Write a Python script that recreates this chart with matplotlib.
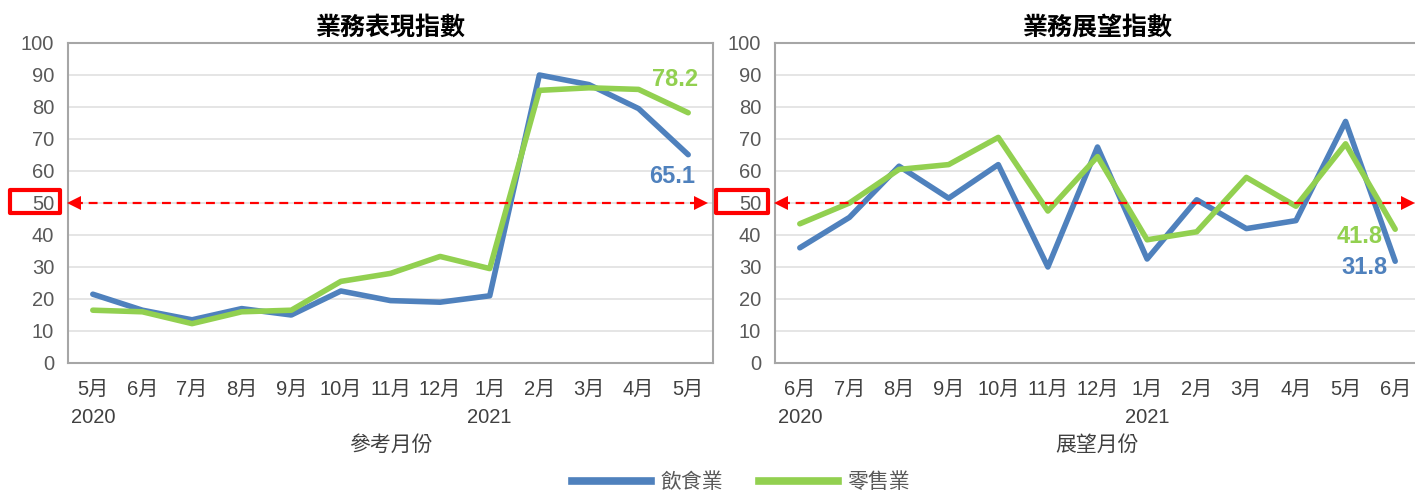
import matplotlib
matplotlib.use("Agg")
import matplotlib.pyplot as plt
from matplotlib import font_manager as fm
from matplotlib.patches import Rectangle
from matplotlib.lines import Line2D
import matplotlib.transforms as mtrans

names = sorted({f.name for f in fm.fontManager.ttflist})

# ---------------- data ----------------
months_left = ["5月", "6月", "7月", "8月", "9月", "10月", "11月", "12月", "1月", "2月", "3月", "4月", "5月"]
years_left = {0: "2020", 8: "2021"}
food_perf = [21.5, 16.5, 13.5, 17.0, 15.0, 22.5, 19.5, 19.0, 21.0, 90.0, 87.0, 79.5, 65.1]
retail_perf = [16.5, 16.0, 12.3, 16.0, 16.5, 25.5, 28.0, 33.3, 29.5, 85.2, 86.0, 85.5, 78.2]

months_right = ["6月", "7月", "8月", "9月", "10月", "11月", "12月", "1月", "2月", "3月", "4月", "5月", "6月"]
years_right = {0: "2020", 7: "2021"}
food_outlook = [36.0, 45.5, 61.5, 51.5, 62.0, 30.0, 67.5, 32.5, 51.0, 42.0, 44.5, 75.5, 31.8]
retail_outlook = [43.5, 50.0, 60.5, 62.0, 70.5, 47.5, 64.5, 38.5, 41.0, 58.0, 49.0, 68.5, 41.8]

titles = ["業務表現指數", "業務展望指數"]
xlabels = ["參考月份", "展望月份"]
series_names = ["飲食業", "零售業"]
threshold = 50
yticks = list(range(0, 101, 10))

# ---------------- style ----------------
BLUE = "#4F81BD"
GREEN = "#92D050"
RED = "#FF0000"
narrow = "Liberation Sans Narrow" if "Liberation Sans Narrow" in names else "Liberation Sans"
CJK = "Noto Sans CJK TC"
num_font = [narrow, CJK]
plt.rcParams['font.family'] = [narrow, CJK, 'DejaVu Sans']

W, H = 1415, 491
fig = plt.figure(figsize=(W / 100, H / 100), dpi=100)

def fx(px):
    return px / W

def fy(py):
    return 1 - py / H

ax_w = 645
axes_specs = [
    (68, months_left, years_left, food_perf, retail_perf, 0),
    (775, months_right, years_right, food_outlook, retail_outlook, 1),
]

for left_px, months, years, food, retail, k in axes_specs:
    ax = fig.add_axes([fx(left_px), fy(363), ax_w / W, (363 - 43) / H])
    x = list(range(len(months)))
    ax.set_xlim(-0.5, len(months) - 0.5)
    ax.set_ylim(0, 100)
    ax.set_yticks(yticks)
    ax.set_yticklabels([str(v) for v in yticks], fontsize=14.5, color="#595959", family=num_font)
    ax.set_xticks(x)
    ax.set_xticklabels(months, fontsize=14.5, color="#404040", family=num_font)
    ax.tick_params(axis='both', length=0)
    ax.tick_params(axis='y', pad=10)
    ax.tick_params(axis='x', pad=12)
    ax.grid(axis='y', color="#E3E3E3", lw=1.3)
    ax.set_axisbelow(True)
    for s in ax.spines.values():
        s.set_color("#A6A6A6")
        s.set_linewidth(1.5)

    ax.plot(x, food, color=BLUE, lw=4, solid_capstyle='round', solid_joinstyle='round', zorder=3)
    ax.plot(x, retail, color=GREEN, lw=4, solid_capstyle='round', solid_joinstyle='round', zorder=4)

    # threshold dashed arrow line
    tr = mtrans.blended_transform_factory(ax.transAxes, ax.transData)
    ax.plot([0.01, 0.982], [threshold, threshold], transform=tr, color=RED, lw=1.6,
            ls=(0, (4, 2.6)), zorder=5, clip_on=False)
    ax.plot([0.009], [threshold], transform=tr, marker='<', ms=10, color=RED, mew=0, zorder=6, clip_on=False)
    ax.plot([0.981], [threshold], transform=tr, marker='>', ms=10, color=RED, mew=0, zorder=6, clip_on=False)

    # year labels
    trx = mtrans.blended_transform_factory(ax.transData, ax.transAxes)
    for i, yr in years.items():
        ax.text(i, -0.17, yr, transform=trx, ha='center', va='center', fontsize=14.5,
                color="#404040", family=num_font)
    ax.text(0.5, -0.255, xlabels[k], transform=ax.transAxes, ha='center', va='center',
            fontsize=15, color="#404040", family=[CJK])
    ax.text(0.5, 1.0 + 15 / 320, titles[k], transform=ax.transAxes, ha='center', va='center',
            fontsize=18, fontweight='bold', color="black", family=[CJK])

    # end value labels
    if k == 0:
        ax.text(11.73, 88.7, f"{retail[-1]:.1f}", ha='center', va='center', fontsize=17,
                fontweight='bold', color=GREEN, family=num_font, zorder=7)
        ax.text(11.67, 58.3, f"{food[-1]:.1f}", ha='center', va='center', fontsize=17,
                fontweight='bold', color=BLUE, family=num_font, zorder=7)
    else:
        ax.text(11.29, 39.5, f"{retail[-1]:.1f}", ha='center', va='center', fontsize=17,
                fontweight='bold', color=GREEN, family=num_font, zorder=7)
        ax.text(11.39, 29.7, f"{food[-1]:.1f}", ha='center', va='center', fontsize=17,
                fontweight='bold', color=BLUE, family=num_font, zorder=7)

# red boxes around the 50 tick labels
for (x0, x1) in [(10, 60), (716, 768)]:
    fig.patches.append(Rectangle((fx(x0), fy(213)), (x1 - x0) / W, 23 / H,
                                 transform=fig.transFigure, fill=False, edgecolor=RED,
                                 lw=3, joinstyle='round', zorder=10))

# legend
handles = [Line2D([], [], color=BLUE, lw=5.5), Line2D([], [], color=GREEN, lw=5.5)]
fig.legend(handles, series_names, loc='center', bbox_to_anchor=(fx(741), fy(482)), ncol=2,
           frameon=False, handlelength=3.8, handletextpad=0.45, columnspacing=1.7,
           prop={'family': CJK, 'size': 15}, labelcolor="#595959")

fig.savefig("out.png", dpi=100)
